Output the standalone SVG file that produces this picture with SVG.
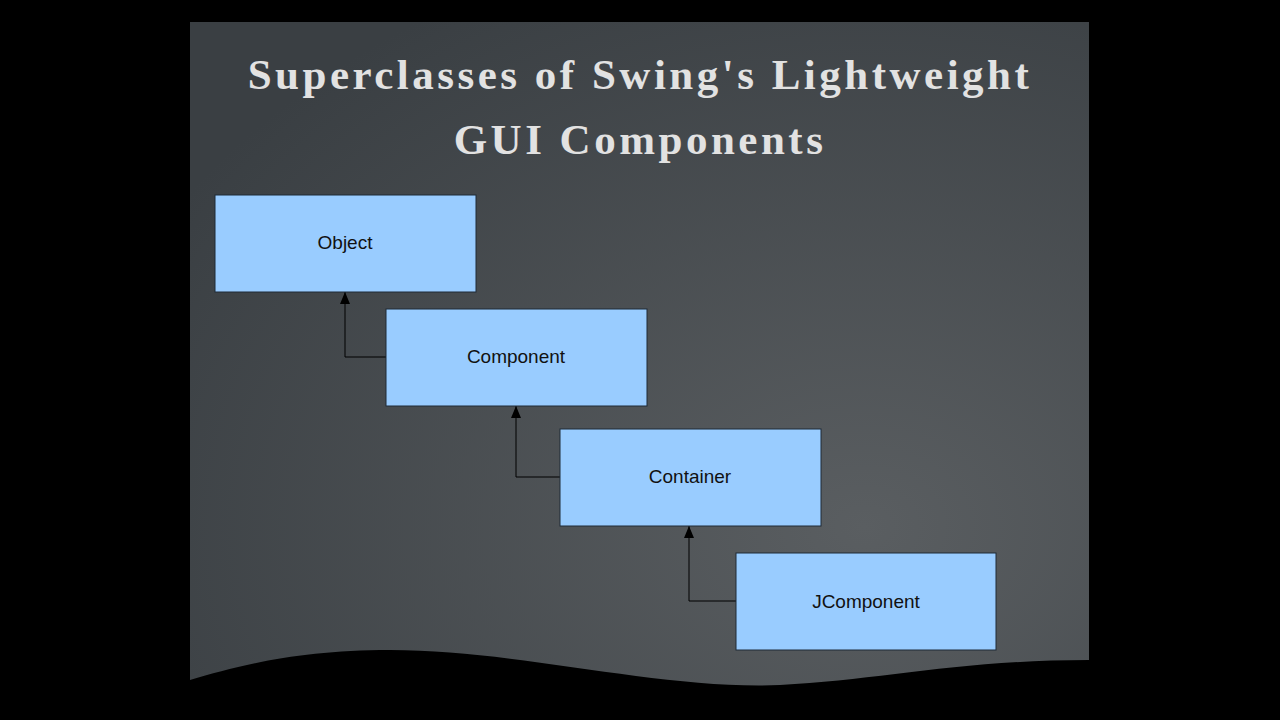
<svg xmlns="http://www.w3.org/2000/svg" width="1280" height="720" viewBox="0 0 1280 720">
<defs>
<radialGradient id="bg" cx="0.75" cy="0.75" r="0.9">
<stop offset="0" stop-color="#5a5e61"/>
<stop offset="1" stop-color="#3a3f43"/>
</radialGradient>
<marker id="ah" markerWidth="12" markerHeight="10" refX="12" refY="5" orient="auto" markerUnits="userSpaceOnUse" viewBox="0 0 12 10">
<path d="M12,5 L0,0 L0,10 Z" fill="#000"/>
</marker>
<style>
.box{fill:#99ccff;stroke:#1f2a36;stroke-width:1}
.lbl{font-family:"Liberation Sans",Arial,sans-serif;font-size:19px;fill:#111;text-anchor:middle}
.ttl{font-family:"Liberation Serif","Times New Roman",serif;font-weight:bold;font-size:43px;fill:#e2e2e2;text-anchor:middle;letter-spacing:3.5px}
.con{fill:none;stroke:#000;stroke-width:1}
</style>
</defs>
<rect width="1280" height="720" fill="#000"/>
<rect x="190" y="22" width="899" height="673" fill="url(#bg)"/>
<path d="M190,680 C240,665 300,650 390,650 C520,650 660,690 780,685 C880,680 960,660 1089,660 L1089,695 L190,695 Z" fill="#000"/>
<text class="ttl" x="640" y="89">Superclasses of Swing's Lightweight</text>
<text class="ttl" x="640" y="154">GUI Components</text>
<g id="connectors">
<path class="con" d="M386,357 H345 V292" marker-end="url(#ah)"/>
<path class="con" d="M560,477 H516 V406" marker-end="url(#ah)"/>
<path class="con" d="M736,601 H689 V526" marker-end="url(#ah)"/>
</g>
<g id="object"><rect class="box" x="215" y="195" width="261" height="97"/><text class="lbl" x="345" y="249">Object</text></g>
<g id="component"><rect class="box" x="386" y="309" width="261" height="97"/><text class="lbl" x="516" y="363">Component</text></g>
<g id="container"><rect class="box" x="560" y="429" width="261" height="97"/><text class="lbl" x="690" y="483">Container</text></g>
<g id="jcomponent"><rect class="box" x="736" y="553" width="260" height="97"/><text class="lbl" x="866" y="608">JComponent</text></g>
</svg>
